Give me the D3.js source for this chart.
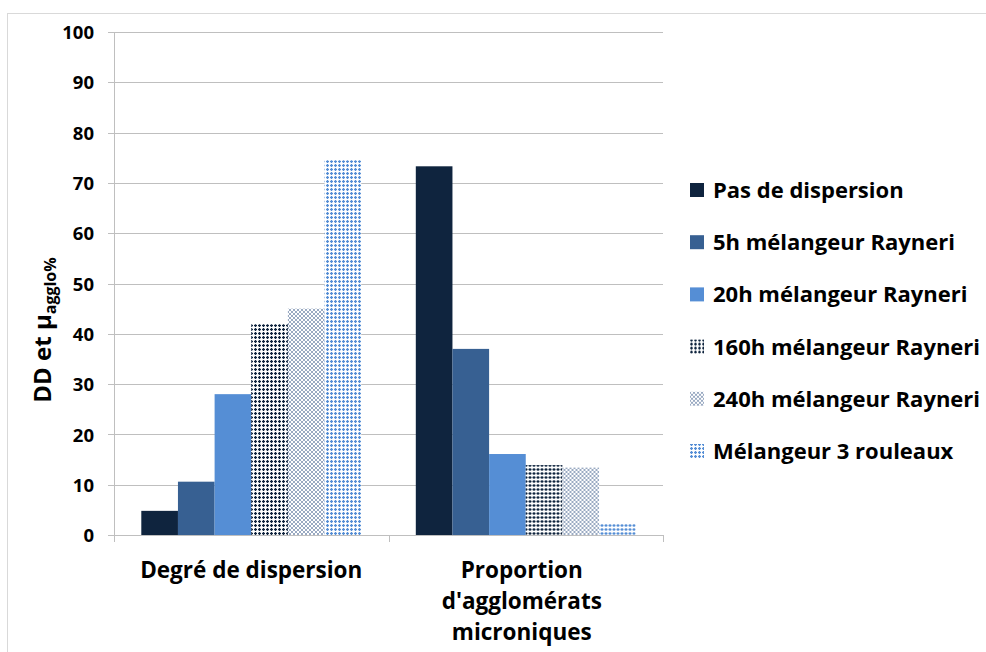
<!DOCTYPE html>
<html><head><meta charset="utf-8">
<script src="https://cdn.jsdelivr.net/npm/d3@7"></script>
<style>
html,body{margin:0;padding:0;background:#fff;}
svg{display:block;}
text{font-family:"Open Sans",Lato,sans-serif;font-weight:700;fill:#000;}
</style></head>
<body>
<svg id="chart" width="986" height="652"></svg>
<script>
// ---- data ----
const categories = ["Degré de dispersion", "Proportion d'agglomérats microniques"];
const categoryLines = [["Degré de dispersion"], ["Proportion", "d'agglomérats", "microniques"]];
const seriesNames = ["Pas de dispersion", "5h mélangeur Rayneri", "20h mélangeur Rayneri",
  "160h mélangeur Rayneri", "240h mélangeur Rayneri", "Mélangeur 3 rouleaux"];
const degreDispersion = [4.8, 10.6, 28.0, 41.9, 45.0, 74.5];
const proportionAgglo = [73.3, 37.0, 16.1, 13.9, 13.4, 2.3];
const yTicks = [0, 10, 20, 30, 40, 50, 60, 70, 80, 90, 100];

const values = [degreDispersion, proportionAgglo];

const svg = d3.select("#chart");
const defs = svg.append("defs");

// patterns
function dotPattern(id, color) {
  const p = defs.append("pattern").attr("id", id).attr("patternUnits", "userSpaceOnUse")
    .attr("width", 4).attr("height", 4);
  p.append("rect").attr("width", 4).attr("height", 4).attr("fill", "#fff");
  p.append("rect").attr("x", 0).attr("y", 1).attr("width", 3).attr("height", 1).attr("fill", color);
  p.append("rect").attr("x", 1).attr("y", 0).attr("width", 1).attr("height", 3).attr("fill", color);
  p.append("rect").attr("x", 0.5).attr("y", 0.5).attr("width", 2).attr("height", 2).attr("fill", color);
}
dotPattern("p160", "#0f243e");
dotPattern("p3r", "#558ed5");
{
  const p = defs.append("pattern").attr("id", "p240").attr("patternUnits", "userSpaceOnUse")
    .attr("width", 4).attr("height", 4);
  p.append("rect").attr("width", 4).attr("height", 4).attr("fill", "#fff");
  p.append("path").attr("d", "M2,0 L4,2 L2,4 L0,2 Z").attr("fill", "none")
    .attr("stroke", "#9aaac2").attr("stroke-width", 1);
}
const fills = ["#0f243e", "#376092", "#558ed5", "url(#p160)", "url(#p240)", "url(#p3r)"];

// frame
svg.append("line").attr("x1", 7).attr("x2", 986).attr("y1", 13.5).attr("y2", 13.5).attr("stroke", "#d9d9d9");
svg.append("line").attr("x1", 7.5).attr("x2", 7.5).attr("y1", 13).attr("y2", 652).attr("stroke", "#d9d9d9");

// scales
const plotL = 114, plotR = 663, plotT = 32, plotB = 535;
const y = d3.scaleLinear().domain([0, 100]).range([plotB, plotT]);
const x0 = d3.scaleBand().domain(categories).range([plotL, plotR]).paddingInner(0).paddingOuter(0);
const x1 = d3.scaleBand().domain(seriesNames).range([0, x0.bandwidth()]).paddingInner(0).paddingOuter(0.745);

// gridlines
svg.append("g").selectAll("line").data(yTicks).join("line")
  .attr("x1", plotL - 6).attr("x2", plotR)
  .attr("y1", d => Math.round(y(d)) + 0.5).attr("y2", d => Math.round(y(d)) + 0.5)
  .attr("stroke", "#bfbfbf").attr("stroke-width", 1);

// y axis
const yAxis = svg.append("g").attr("transform", `translate(${plotL},0)`)
  .call(d3.axisLeft(y).tickValues(yTicks).tickSize(0).tickPadding(20));
yAxis.select(".domain").remove();
yAxis.selectAll("text").style("font-size", "18.5px").attr("dy", "0.36em");
svg.append("line").attr("x1", plotL + 0.5).attr("x2", plotL + 0.5).attr("y1", plotT).attr("y2", plotB + 7)
  .attr("stroke", "#bfbfbf");

// category tick marks
svg.append("g").selectAll("line").data([plotL, plotL + x0.bandwidth(), plotR]).join("line")
  .attr("x1", d => Math.round(d) + 0.5).attr("x2", d => Math.round(d) + 0.5)
  .attr("y1", plotB).attr("y2", plotB + 7).attr("stroke", "#bfbfbf");

// bars
const groups = svg.append("g").selectAll("g").data(categories).join("g")
  .attr("transform", d => `translate(${x0(d)},0)`);
groups.selectAll("rect").data((c, i) => seriesNames.map((s, j) => ({ s, j, v: values[i][j] })))
  .join("rect")
  .attr("x", d => x1(d.s)).attr("width", x1.bandwidth())
  .attr("y", d => y(d.v)).attr("height", d => y(0) - y(d.v))
  .attr("fill", d => fills[d.j]);

// category labels
const catOffsets = [0, -4];
categoryLines.forEach((lines, i) => {
  const cx = x0(categories[i]) + x0.bandwidth() / 2 + catOffsets[i];
  const t = svg.append("text").attr("text-anchor", "middle").style("font-size", "22.5px");
  lines.forEach((l, k) => {
    t.append("tspan").attr("x", cx).attr("y", 578 + k * 31).text(l);
  });
});

// y title
const yt = svg.append("text").attr("transform", "translate(51,330) rotate(-90)")
  .attr("text-anchor", "middle").style("font-size", "24px");
yt.append("tspan").text("DD et μ");
yt.append("tspan").attr("dy", "0.3em").style("font-size", "16px").text("agglo%");

// legend
const legend = svg.append("g").selectAll("g").data(seriesNames).join("g")
  .attr("transform", (d, i) => `translate(690,${190 + i * 52.2})`);
legend.append("rect").attr("x", 0).attr("y", -7).attr("width", 14).attr("height", 14)
  .attr("fill", (d, i) => fills[i]);
legend.append("text").attr("x", 23).attr("y", 0).attr("dy", "0.36em").style("font-size", "22px").text(d => d);
</script>
</body></html>
